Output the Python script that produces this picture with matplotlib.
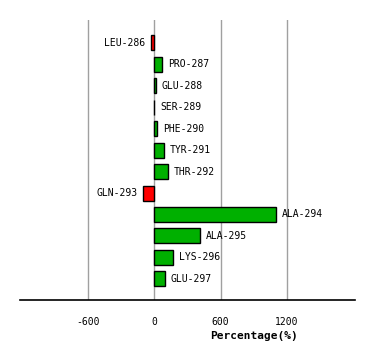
import matplotlib
matplotlib.use("Agg")
import matplotlib.pyplot as plt

residues = ["LEU-286", "PRO-287", "GLU-288", "SER-289", "PHE-290", "TYR-291",
            "THR-292", "GLN-293", "ALA-294", "ALA-295", "LYS-296", "GLU-297"]
values = [-27, 72, 18, 3, 27, 90, 126, -99, 1100, 415, 171, 99]
ticks = [-600, 0, 600, 1200]

fig = plt.figure(figsize=(3.74, 3.6), dpi=100)
ax = fig.add_axes([0.054, 0.166, 0.894, 0.778])

colors = ["#00b000" if v >= 0 else "#ff0000" for v in values]
pos = list(range(len(residues)))
ax.barh(pos, values, height=0.7, color=colors, edgecolor="black", linewidth=1.0, zorder=3)

for i, (name, v) in enumerate(zip(residues, values)):
    if v >= 0:
        ax.annotate(name, (v, i), xytext=(4, 0), textcoords="offset points",
                    ha="left", va="center", family="DejaVu Sans Mono", fontsize=7)
    else:
        ax.annotate(name, (v, i), xytext=(-4, 0), textcoords="offset points",
                    ha="right", va="center", family="DejaVu Sans Mono", fontsize=7)

ax.set_xlim(-1210, 1810)
ax.set_ylim(len(residues) - 1 + 1.0, -1.06)
for t in [-600, 600, 1200]:
    ax.axvline(t, color="#a0a0a0", linewidth=1.0, zorder=1)
ax.axvline(0, color="#a0a0a0", linewidth=1.0, zorder=1)

for s in ["top", "left", "right"]:
    ax.spines[s].set_visible(False)
ax.spines["bottom"].set_linewidth(1.2)
ax.set_yticks([])
ax.set_xticks(ticks)
ax.set_xticklabels([str(t) for t in ticks], family="DejaVu Sans Mono", fontsize=7)
ax.tick_params(axis="x", length=0, pad=12)
ax.set_xlabel("Percentage(%)", family="DejaVu Sans Mono", fontsize=8, fontweight="bold")
ax.xaxis.set_label_coords(0.70, -0.11)

fig.savefig("out.png", dpi=100)
